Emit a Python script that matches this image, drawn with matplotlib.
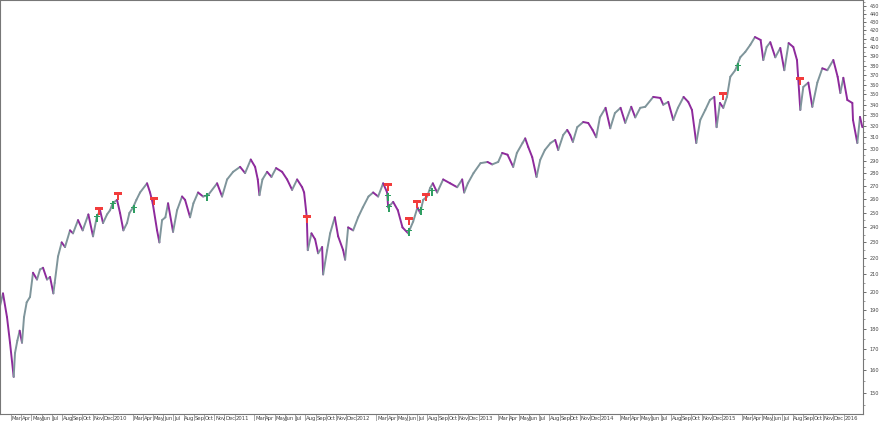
import matplotlib
matplotlib.use("Agg")
import matplotlib.pyplot as plt
import matplotlib.dates as mdates
import matplotlib.transforms as mtransforms
from matplotlib.collections import LineCollection
from matplotlib.path import Path
from matplotlib.ticker import FixedLocator, NullFormatter, FuncFormatter
import numpy as np
import pandas as pd

# precio (cierre aproximado)
fechas = [
    "2009-01-27", "2009-02-05", "2009-02-17", "2009-02-26", "2009-03-09", "2009-03-13",
    "2009-03-20", "2009-03-27", "2009-04-03", "2009-04-09", "2009-04-17", "2009-04-27",
    "2009-05-06", "2009-05-18", "2009-05-27", "2009-06-05", "2009-06-17", "2009-06-26",
    "2009-07-06", "2009-07-10", "2009-07-20", "2009-07-31", "2009-08-10", "2009-08-25",
    "2009-09-03", "2009-09-18", "2009-10-02", "2009-10-19", "2009-11-02", "2009-11-13",
    "2009-11-23", "2009-12-02", "2009-12-14", "2009-12-23", "2009-12-31", "2010-01-13",
    "2010-01-22", "2010-02-01", "2010-02-12", "2010-02-19", "2010-03-02", "2010-03-12",
    "2010-03-23", "2010-04-13", "2010-04-22", "2010-04-30", "2010-05-13", "2010-05-20",
    "2010-05-28", "2010-06-07", "2010-06-15", "2010-06-30", "2010-07-12", "2010-07-27",
    "2010-08-05", "2010-08-20", "2010-08-30", "2010-09-13", "2010-09-28", "2010-10-13",
    "2010-11-09", "2010-11-24", "2010-12-09", "2010-12-27", "2011-01-17", "2011-02-01",
    "2011-02-18", "2011-03-03", "2011-03-11", "2011-03-16", "2011-03-25", "2011-04-08",
    "2011-04-21", "2011-05-05", "2011-05-23", "2011-06-07", "2011-06-22", "2011-07-07",
    "2011-07-22", "2011-07-28", "2011-08-05", "2011-08-08", "2011-08-19", "2011-08-30",
    "2011-09-08", "2011-09-20", "2011-09-23", "2011-10-05", "2011-10-14", "2011-10-28",
    "2011-11-07", "2011-11-22", "2011-11-28", "2011-12-07", "2011-12-22", "2012-01-06",
    "2012-01-20", "2012-02-06", "2012-02-20", "2012-03-06", "2012-03-21", "2012-04-02",
    "2012-04-05", "2012-04-20", "2012-05-04", "2012-05-18", "2012-06-04", "2012-06-19",
    "2012-07-02", "2012-07-10", "2012-07-19", "2012-07-31", "2012-08-09", "2012-08-17",
    "2012-08-30", "2012-09-17", "2012-10-08", "2012-10-29", "2012-11-13", "2012-11-19",
    "2012-11-30", "2012-12-17", "2013-01-07", "2013-01-28", "2013-02-11", "2013-03-01",
    "2013-03-13", "2013-03-29", "2013-04-15", "2013-04-26", "2013-05-13", "2013-05-21",
    "2013-05-30", "2013-06-11", "2013-06-24", "2013-07-05", "2013-07-19", "2013-08-05",
    "2013-08-19", "2013-08-28", "2013-09-12", "2013-09-24", "2013-10-03", "2013-10-11",
    "2013-10-24", "2013-11-11", "2013-11-26", "2013-12-09", "2013-12-20", "2013-12-31",
    "2014-01-17", "2014-01-31", "2014-02-14", "2014-03-03", "2014-03-17", "2014-04-04",
    "2014-04-16", "2014-05-01", "2014-05-16", "2014-06-09", "2014-06-30", "2014-07-09",
    "2014-07-24", "2014-08-08", "2014-08-22", "2014-09-08", "2014-09-22", "2014-10-03",
    "2014-10-16", "2014-10-28", "2014-11-12", "2014-11-26", "2014-12-09", "2014-12-16",
    "2014-12-26", "2015-01-05", "2015-01-16", "2015-01-26", "2015-02-10", "2015-02-25",
    "2015-03-12", "2015-03-27", "2015-04-10", "2015-04-27", "2015-05-05", "2015-05-15",
    "2015-05-26", "2015-06-10", "2015-06-25", "2015-07-07", "2015-07-20", "2015-08-03",
    "2015-08-14", "2015-08-18", "2015-08-24", "2015-09-02", "2015-09-17", "2015-09-29",
    "2015-10-14", "2015-10-29", "2015-11-13", "2015-12-01", "2015-12-14", "2015-12-22",
    "2015-12-31", "2016-01-12", "2016-01-27", "2016-01-29", "2016-02-11", "2016-02-19",
    "2016-02-26",
]
precios = [
    192, 199, 186, 173, 157, 168,
    174, 179, 173, 186, 194, 197,
    211, 207, 213, 214, 207, 208.5,
    199, 205, 221, 230, 227, 238,
    236, 245, 238, 249, 234, 247,
    252, 243, 249, 252, 257, 259.5,
    250, 238, 243, 250, 254, 259.5,
    265, 272, 265, 257, 238, 230,
    245, 247, 257, 237, 252, 262,
    259.5, 247, 257, 265, 262, 263,
    272, 262, 275, 281, 285, 280,
    291, 285, 275, 263, 275, 281,
    277, 284, 281, 275, 267, 275,
    269, 265, 247, 225, 236, 232,
    223, 227, 210, 225, 236, 247,
    234, 225, 219, 240, 238, 247,
    254, 262, 265, 262, 272, 265,
    254, 258, 252, 240, 236, 244,
    254, 250, 259.5, 262, 268.5, 272,
    265, 275, 272, 269, 275, 265,
    272, 280, 288, 289, 287, 289,
    296.5, 295, 285, 296.5, 305, 309,
    301.6, 293, 277, 290.7, 299, 305,
    307.6, 299, 312, 316.5, 312, 306,
    319, 323.7, 322.8, 316.5, 310, 328,
    337, 318, 332, 337, 323, 338,
    328, 337, 338, 347.6, 346.6, 340,
    342.7, 325.6, 337, 347.6, 342.7, 335,
    305, 325.6, 335, 344.6, 347.6, 319,
    341.7, 337, 347.6, 368, 375, 389,
    395, 403, 412, 408.6, 386, 400.5,
    406, 389, 399.4, 375, 405, 400.5,
    386, 365, 335, 357.6, 362, 338,
    362, 377, 375, 386, 368, 351.5,
    367, 344.6, 341.7, 325.6, 305, 328.4,
    319,
]

# senales de venta (rojo) y compra (verde)
venta_fechas = ["2009-11-20", "2010-01-16", "2010-05-04", "2011-08-06", "2012-04-05",
                "2012-06-07", "2012-07-01", "2012-07-28", "2015-01-05", "2015-08-24"]
venta_precios = [251.3, 262.5, 258.7, 245.9, 269.2, 244.5, 256.6, 261.7, 348.5, 364]
compra_fechas = ["2009-11-14", "2010-01-01", "2010-03-05", "2010-10-10", "2012-04-05",
                 "2012-04-08", "2012-06-07", "2012-07-13", "2012-08-15", "2015-02-19"]
compra_precios = [246.6, 255.9, 253, 261.7, 261.7, 253.5, 237, 251.5, 265.4, 378]

meses = ['Jan', 'Feb', 'Mar', 'Apr', 'May', 'Jun', 'Jul', 'Aug', 'Sep', 'Oct', 'Nov', 'Dec']

color_baja = '#8e2a9c'
color_sube = '#7f959b'

fig = plt.figure(figsize=(8.8, 4.21), dpi=100)
ax = fig.add_axes([0, 1 - 414 / 421, 863 / 880, 414 / 421])

x = mdates.date2num(pd.to_datetime(fechas))
y = np.array(precios, dtype=float)
puntos = np.column_stack([x, y])
segmentos = np.stack([puntos[:-1], puntos[1:]], axis=1)
colores = [color_baja if y[i + 1] < y[i] else color_sube for i in range(len(y) - 1)]
lc = LineCollection(segmentos, colors=colores, linewidths=1.4, capstyle='round')
ax.add_collection(lc)

# marcadores personalizados
bandera = Path(
    [(-1, 0.15), (1, 0.15), (1, 1), (-1, 1), (-1, 0.15),
     (-0.18, -1), (0.18, -1), (0.18, 0.15), (-0.18, 0.15), (-0.18, -1)],
    [Path.MOVETO, Path.LINETO, Path.LINETO, Path.LINETO, Path.CLOSEPOLY,
     Path.MOVETO, Path.LINETO, Path.LINETO, Path.LINETO, Path.CLOSEPOLY])
cruz = Path(
    [(-0.18, -1), (0.18, -1), (0.18, 1), (-0.18, 1), (-0.18, -1),
     (-0.75, 0.3), (0.75, 0.3), (0.75, 0.62), (-0.75, 0.62), (-0.75, 0.3)],
    [Path.MOVETO, Path.LINETO, Path.LINETO, Path.LINETO, Path.CLOSEPOLY,
     Path.MOVETO, Path.LINETO, Path.LINETO, Path.LINETO, Path.CLOSEPOLY])

ax.scatter(pd.to_datetime(venta_fechas), venta_precios, marker=bandera, s=32,
           color='#f23c3c', linewidths=0, zorder=5)
ax.scatter(pd.to_datetime(compra_fechas), compra_precios, marker=cruz, s=30,
           color='#2f9e62', linewidths=0, zorder=5)

# eje y logaritmico a la derecha
ax.set_yscale('log')
ax.set_ylim(141.3, 457.7)
ax.yaxis.tick_right()
ax.yaxis.set_major_locator(FixedLocator(list(range(150, 460, 10))))
ax.yaxis.set_major_formatter(FuncFormatter(lambda v, p: f"{v:.0f}"))
ax.yaxis.set_minor_locator(FixedLocator(list(range(145, 460, 10))))
ax.yaxis.set_minor_formatter(NullFormatter())
ax.tick_params(axis='y', which='major', direction='out', length=2.2, width=0.6,
               labelsize=3.6, pad=2.5, colors='#555555', labelcolor='#444444')
ax.tick_params(axis='y', which='minor', direction='out', length=1.2, width=0.5,
               colors='#777777')

# eje x con separadores por mes
inicio = pd.Timestamp("2009-01-27")
fin = pd.Timestamp("2016-02-28")
ax.set_xlim(inicio, fin)
marcas = [d for d in pd.date_range("2009-01-01", fin, freq='MS') if d.month != 2 and d >= inicio]
ax.set_xticks(marcas)
ax.set_xticklabels([])
ax.tick_params(axis='x', which='major', direction='out', length=6, width=0.5,
               colors='#888888')
trans = mtransforms.blended_transform_factory(ax.transData, ax.transAxes)
for d in marcas:
    etiqueta = str(d.year) if d.month == 1 else meses[d.month - 1]
    ax.text(d + pd.Timedelta(days=2), -0.006, etiqueta, transform=trans,
            ha='left', va='top', fontsize=3.8, color='#444444')

for lado in ['top', 'left', 'right', 'bottom']:
    ax.spines[lado].set_color('#777777')
    ax.spines[lado].set_linewidth(0.8)

fig.savefig('out.png', dpi=100, facecolor='white')
